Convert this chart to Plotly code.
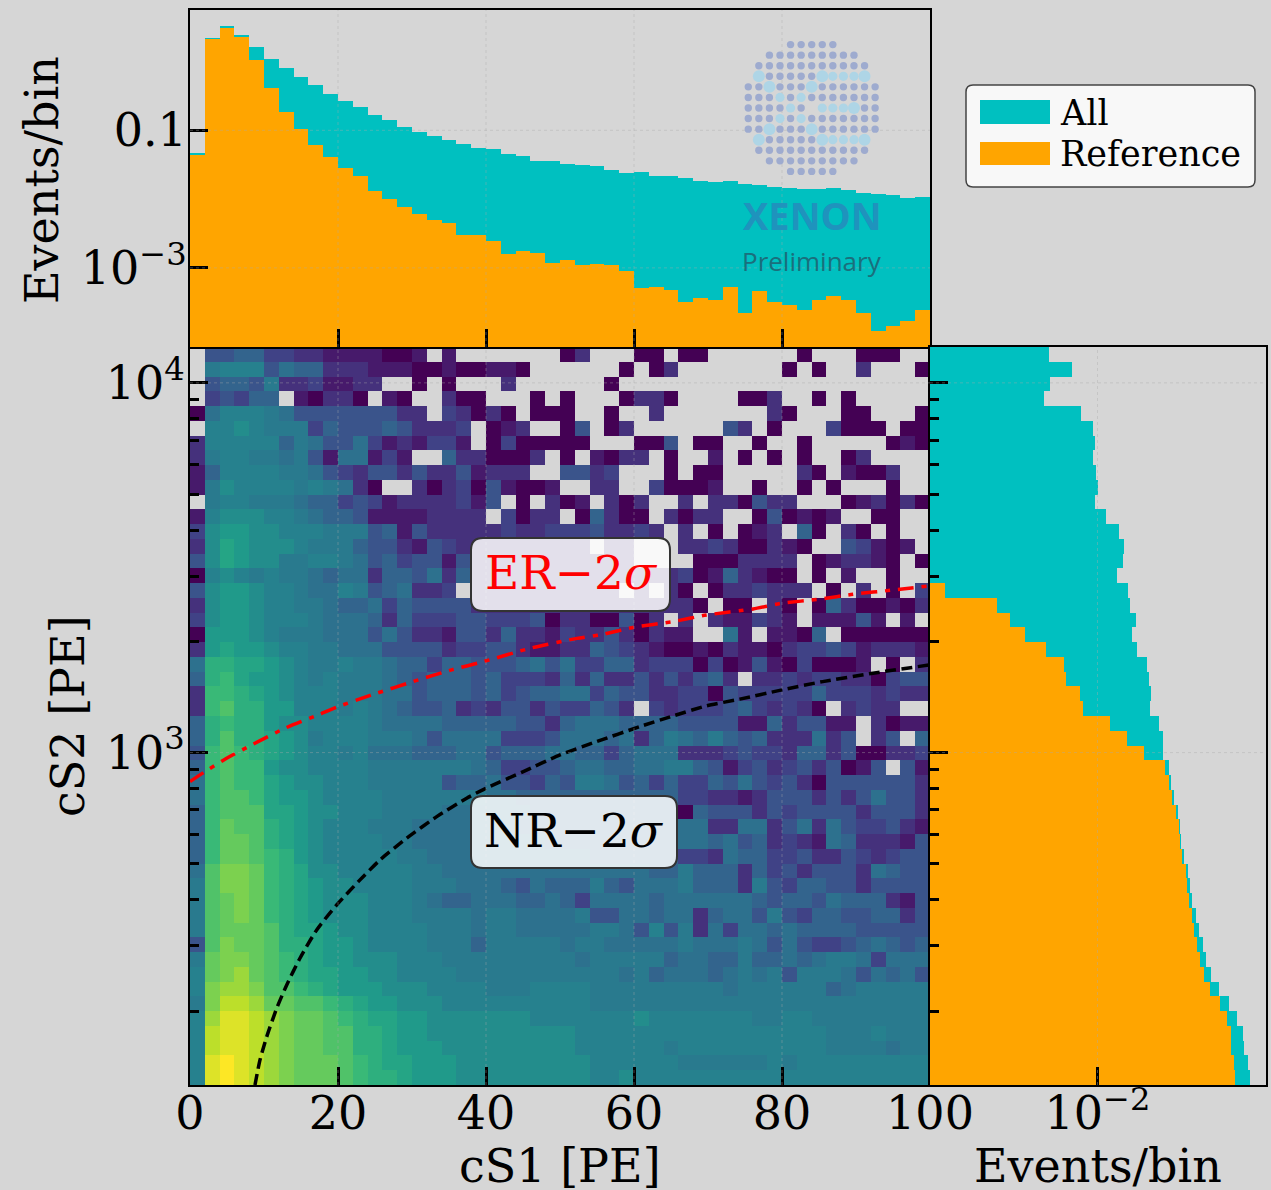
import numpy as np
import plotly.graph_objects as go

W, H = 1271, 1190
BG = "#d6d6d6"
TEAL = "#00c0c0"
ORANGE = "#ffa500"
SERIF = "DejaVu Serif"

# ---- top histogram: log10(events/bin) per cS1 bin (2 PE wide)
S1_ALL_LOG = [-1.330, 0.349, 0.516, 0.385, 0.215, 0.041, -0.099, -0.230, -0.346, -0.468,
              -0.570, -0.666, -0.782, -0.855, -0.952, -1.020, -1.083, -1.141, -1.199, -1.253,
              -1.276, -1.349, -1.378, -1.446, -1.446, -1.485, -1.509, -1.515, -1.581, -1.621,
              -1.606, -1.660, -1.669, -1.693, -1.741, -1.756, -1.741, -1.781, -1.795, -1.824,
              -1.834, -1.849, -1.853, -1.839, -1.863, -1.916, -1.930, -1.940, -1.980, -1.965]
S1_REF_LOG = [-1.359, 0.327, 0.494, 0.360, 0.022, -0.385, -0.738, -0.985, -1.209, -1.392,
              -1.552, -1.660, -1.882, -1.994, -2.115, -2.221, -2.304, -2.352, -2.517, -2.522,
              -2.613, -2.798, -2.759, -2.788, -2.933, -2.890, -2.958, -2.943, -2.962, -3.049,
              -3.292, -3.273, -3.317, -3.500, -3.442, -3.471, -3.273, -3.660, -3.336, -3.500,
              -3.539, -3.616, -3.471, -3.413, -3.471, -3.660, -3.917, -3.840, -3.772, -3.616]

# ---- right histogram: log10(events/bin) per cS2 bin, top row first
S2_ALL_LOG = [-2.284, -2.147, -2.278, -2.314, -2.096, -2.027, -2.016, -2.025, -2.006, -1.996,
              -2.014, -1.949, -1.876, -1.843, -1.849, -1.886, -1.820, -1.810, -1.776, -1.800,
              -1.767, -1.710, -1.698, -1.684, -1.690, -1.637, -1.618, -1.618, -1.582, -1.567,
              -1.551, -1.527, -1.518, -1.508, -1.494, -1.467, -1.457, -1.445, -1.424, -1.406,
              -1.380, -1.361, -1.331, -1.288, -1.225, -1.180, -1.145, -1.137, -1.118, -1.102]
S2_REF_LOG = [None] * 16 + [
              -2.896, -2.590, -2.516, -2.425,
              -2.304, -2.194, -2.184, -2.104, -2.084, -1.924, -1.829, -1.729, -1.602, -1.578,
              -1.563, -1.539, -1.524, -1.516, -1.502, -1.482, -1.475, -1.465, -1.447, -1.433,
              -1.416, -1.398, -1.375, -1.337, -1.280, -1.241, -1.216, -1.214, -1.200, -1.190]

# ---- 2D histogram: colour level per cell, top row first ('.' = empty, 0..k = 0..1 in steps of .05)
LEVELS = "0123456789abcdefghijk"
# calibration of the level letters to the colour scale
LEVEL_IN = [0, .05, .10, .15, .20, .25, .30, .35, .40, .50, .60, .70, .80, 1]
LEVEL_OUT = [0, .07, .14, .20, .26, .32, .37, .41, .44, .54, .63, .72, .80, 1]
HEAT_ROWS = [
 ".445533221 111001.1.. .....02... 00.00..... .0...000..",
 ".788846552 2211100100 110......0 .02....... 0.0..2...0",
 ".455472231 122..0.0.. .2......0. .......... ..........",
 ".34355.102 20.10..200 ...0.0...0 220....002 ..0.0.....",
 "0688876444 444422.320 20.000..0. .2.......2 0...00...0",
 ".889877735 444542223. 012..04.02 ......42.0 ...3000.00",
 "2888885764 463121331. 0300000... 004.00..0. .0.....010",
 "2788776741 66131..522 0002.0.102 2.0..1.0.0 .0..02....",
 "1588887764 3244242241 222..4423. ..0.00.... .20.1002..",
 "1798888787 620..20230 41001..22. .30001..0. .0.0...0..",
 ".788777655 3431222231 4.0.201.20 2..2.22042 2...012020",
 "1899988765 5411112222 .3022.0520 0.2022..04 0101..00..",
 "39aa998887 7745142222 2322333422 32.2.0.012 .50.20.0..",
 "29ba999877 7544214322 2222222.22 ...2232002 10..43101.",
 "49ba997788 7645344142 2222222222 ....000222 2.012210.0",
 "0898787765 6625546252 2222222222 2223015210 0.0.1..0..",
 "49aa988766 87456223.2 222222222. 2.20.02232 22.0.2.0.3",
 "29aa988776 5563544442 2222222222 22220.00.2 0.05200102",
 "39aa988876 6652533344 3334022004 02.2.21132 1.11141.1.",
 "0aaa987776 6646422144 2522132242 0211..61.1 105.000000",
 "2abaa98877 6664444233 4421122543 2100102110 2334312221",
 "6ccbba9877 8776553554 4456463355 2333030141 030001.0.2",
 "5cdbaa9878 7776545554 5333252522 4242452.22 3233220344",
 "2ddcba9888 7776645554 5345566354 4223304333 3353332322",
 "2deccaa888 7876544523 2442433542 .323334532 320.2322..",
 "5cdcca9988 8876666555 5544256665 5554444115 24411.2011",
 "5ceccba978 8877764666 6333466656 2576575452 22624.24.5",
 "4dedcba988 7866655566 4555665535 6662223433 2552400223",
 "5dedda9988 8877777776 5334456655 6677541342 3424014.41",
 "6deddba998 8877777455 6443547764 5353354643 4204444442",
 "6deedbaa98 8887777777 6655555555 5553322124 4424246442",
 "5deeebba99 8887777666 6665555555 5550544424 3444424442",
 "5dfeecba98 8877766666 6655555555 5556622662 4626433421",
 "5dffecba98 8887766666 6666555555 5556656452 3216522214",
 "5dffedca98 8888776666 6666666555 5553326553 3422432344",
 "6eggfdcb99 8888877666 6666666666 6557555253 4244426544",
 "7eggfdcba9 9888877766 6546555754 6667555274 3554424444",
 "7efgfdcba9 9988876556 6655653666 6566666654 5546555214",
 "7efgfdcba9 9988877776 7766667446 6566256647 4355445524",
 "7efffecbba 9988887776 7766666776 4847263665 6555544444",
 "4egffeccba a988887775 7777767766 6667666764 6433456545",
 "7fggfedcba a999888777 7777776777 7756655755 6567763666",
 "8fghfedcbb aa99888877 7777777776 7566656767 4777646564",
 "8ghhgeedcb aaa9998888 7778888777 7777776777 7775677777",
 "7giihffeed cbaa999888 8888888777 7777777777 7777777777",
 "8hjjihgffe dcbbaa9999 9998888888 9888888877 8877777777",
 "8ijjihgffe eccbaa9999 9999998888 8888888888 8887778777",
 "8ijjihgffe eccbaaa999 9999998888 8878888888 8887777677",
 "8jkjihgfff edcbbaaa99 9999999888 8887777778 7888888888",
 "8jkjihgfff edccbaaa99 9999999889 8888888888 8888888888",
]

# ---- contours
ER_X = [0, 2.03, 4.73, 8.34, 12.84, 17.34, 20.04, 24.55, 30.85, 35.36, 39.64, 46, 52.3, 55.4, 60, 65.2, 69.8, 76.1, 80, 85.1, 89.6, 95, 100]
ER_Y = [835, 888.5, 959.6, 1049, 1164, 1265, 1332, 1432, 1573, 1674, 1762, 1916, 2037, 2080, 2183, 2260, 2356, 2447, 2535, 2600, 2681, 2752, 2824]
NR_X = [8.78, 9.46, 10.45, 11.72, 13.07, 14.86, 17.12, 19.82, 22.74, 25.68, 29.28, 33.34, 37.39, 40, 45.04, 50, 54.96, 60.8, 65.3, 69.8, 74.3, 80, 85.5, 92.3, 100]
NR_Y = [126.2, 147.5, 172.4, 203.5, 235.3, 277.9, 331.5, 387.3, 447.7, 512.6, 586.7, 671.3, 752.9, 801, 888.5, 986, 1071, 1176, 1257, 1338, 1395, 1478, 1556, 1640, 1727]

X_TICKS = [0, 20, 40, 60, 80, 100]
CS2_RANGE_LOG = [2.101, 4.097]
S1_AXIS_LOG = [-4.150, 0.749]
S2_AXIS_LOG = [-2.984, -1.010]

# logo layout: dots per row, and the highlighted letter dots as (row, col, big?)
LOGO_ROWS = [5, 9, 11, 11, 13, 13, 13, 13, 13, 11, 11, 9, 5]
LOGO_X = [(-3, -5, 1), (-2, -4, 1), (-1, -3, 0), (0, -2, 0), (1, -3, 0), (2, -4, 1), (3, -5, 1),
          (-2, 0, 1), (-1, -1, 0), (1, -1, 0), (2, 0, 1)]
LOGO_E = [(-3, 1, 1), (-3, 2, 0), (-3, 3, 0), (-3, 4, 0), (-3, 5, 1),
          (0, 1, 0), (0, 2, 0), (0, 3, 0), (0, 4, 1),
          (3, 1, 1), (3, 2, 0), (3, 3, 0), (3, 4, 0), (3, 5, 1)]

# ---- derived
def level(c):
    return None if c == "." else float(np.interp(LEVELS.index(c) / 20, LEVEL_IN, LEVEL_OUT))

rows = [r.replace(" ", "") for r in HEAT_ROWS]
assert len(rows) == 50 and all(len(r) == 50 for r in rows), [len(r) for r in rows]
z = [[level(c) for c in r] for r in rows[::-1]]
x_edges = np.arange(0, 102, 2)
x_mid = x_edges[:-1] + 1
y_edges = np.logspace(CS2_RANGE_LOG[0], CS2_RANGE_LOG[1], 51)
y_mid = (y_edges[:-1] + y_edges[1:]) / 2
y_wid = y_edges[1:] - y_edges[:-1]


def unlog(a):
    return [None if v is None else 10 ** v for v in a]


def px(x):
    return x / W


def py(y):
    return 1 - y / H


fig = go.Figure()
fig.add_trace(go.Heatmap(z=z, x=x_edges, y=y_edges, colorscale="Viridis", zmin=0, zmax=1,
                         showscale=False, xaxis="x", yaxis="y", hoverongaps=False))
fig.add_trace(go.Scatter(x=ER_X, y=ER_Y, mode="lines", xaxis="x", yaxis="y",
                         line=dict(color="#ff0000", width=3.5, shape="spline", smoothing=0.6,
                                   dash="16px,8px,5px,8px")))
fig.add_trace(go.Scatter(x=NR_X, y=NR_Y, mode="lines", xaxis="x", yaxis="y",
                         line=dict(color="black", width=3.5, shape="spline", smoothing=0.6, dash="11px,5.5px")))
fig.add_trace(go.Bar(x=x_mid, y=unlog(S1_ALL_LOG), width=2, marker=dict(color=TEAL, line=dict(width=0)),
                     name="All", xaxis="x2", yaxis="y2"))
fig.add_trace(go.Bar(x=x_mid, y=unlog(S1_REF_LOG), width=2, marker=dict(color=ORANGE, line=dict(width=0)),
                     name="Reference", xaxis="x2", yaxis="y2"))
fig.add_trace(go.Bar(y=y_mid, x=unlog(S2_ALL_LOG[::-1]), width=y_wid, orientation="h",
                     marker=dict(color=TEAL, line=dict(width=0)), name="All", xaxis="x3", yaxis="y3"))
fig.add_trace(go.Bar(y=y_mid, x=unlog(S2_REF_LOG[::-1]), width=y_wid, orientation="h",
                     marker=dict(color=ORANGE, line=dict(width=0)), name="Reference", xaxis="x3", yaxis="y3"))

shapes = []
GRID = dict(color="rgba(170,170,170,0.4)", width=1, dash="dot")
for v in X_TICKS[1:-1]:
    shapes.append(dict(type="line", xref="x", yref="y domain", x0=v, x1=v, y0=0, y1=1, line=GRID))
    shapes.append(dict(type="line", xref="x2", yref="y2 domain", x0=v, x1=v, y0=0, y1=1, line=GRID))
for v in (1000, 10000):
    shapes.append(dict(type="line", yref="y", xref="x domain", y0=v, y1=v, x0=0, x1=1, line=GRID))
    shapes.append(dict(type="line", yref="y3", xref="x3 domain", y0=v, y1=v, x0=0, x1=1, line=GRID))
for v in (0.1, 0.001):
    shapes.append(dict(type="line", yref="y2", xref="x2 domain", y0=v, y1=v, x0=0, x1=1, line=GRID))
shapes.append(dict(type="line", xref="x3", yref="y3 domain", x0=0.01, x1=0.01, y0=0, y1=1, line=GRID))


def rounded(x0, y0, x1, y1, r):
    a, b, c, d = px(x0), py(y0), px(x1), py(y1)
    rx, ry = r / W, r / H
    return (f"M {a+rx} {b} L {c-rx} {b} Q {c} {b} {c} {b-ry} L {c} {d+ry} Q {c} {d} {c-rx} {d} "
            f"L {a+rx} {d} Q {a} {d} {a} {d+ry} L {a} {b-ry} Q {a} {b} {a+rx} {b} Z")


def rbox(x0, y0, x1, y1, r, fill, edge="#333333", lw=2):
    return dict(type="path", xref="paper", yref="paper", path=rounded(x0, y0, x1, y1, r),
                fillcolor=fill, line=dict(color=edge, width=lw))


shapes.append(rbox(471, 538, 670, 611, 12, "rgba(255,255,255,0.85)"))
shapes.append(rbox(471, 796, 677, 868, 12, "rgba(255,255,255,0.85)"))
shapes.append(rbox(966, 85, 1255, 187, 7, "rgba(250,250,250,0.95)", "#444444", 1.5))
for y0, y1, col in ((100, 124, TEAL), (142, 165, ORANGE)):
    shapes.append(dict(type="rect", xref="paper", yref="paper", x0=px(980), x1=px(1050), y0=py(y1), y1=py(y0),
                       fillcolor=col, line=dict(width=0)))

# logo dots
CX, CY, STEP = 811.7, 108.0, 10.57
highlight = {(r, c): big for r, c, big in LOGO_X + LOGO_E}


def dot(cx, cy, rad, col):
    return dict(type="circle", xref="paper", yref="paper", x0=px(cx - rad), x1=px(cx + rad),
                y0=py(cy + rad), y1=py(cy - rad), fillcolor=col, line=dict(width=0))


for i, n in enumerate(LOGO_ROWS):
    r = i - 6
    for k in range(n):
        c = k - n // 2
        if (r, c) == (0, 0):
            continue
        if (r, c) not in highlight:
            shapes.append(dot(CX + c * STEP, CY + r * STEP, 3.7, "#9eabcf"))
for (r, c), big in highlight.items():
    shapes.append(dot(CX + c * STEP, CY + r * STEP, 6.0 if big else 4.6, "#aed5e6"))


def note(text, x, y, size=46, color="black", family=SERIF, angle=0, xanchor="center", bold=False):
    return dict(text=f"<b>{text}</b>" if bold else text, xref="paper", yref="paper", x=px(x), y=py(y),
                xanchor=xanchor, yanchor="middle", showarrow=False, textangle=angle,
                font=dict(size=size, color=color, family=family))


annotations = [
    note("cS1 [PE]", 560, 1166),
    note("Events/bin", 1098, 1166),
    note("cS2 [PE]", 68, 716, angle=-90),
    note("Events/bin", 42, 180, angle=-90),
    note("ER−2<i>σ</i>", 571, 572, size=47, color="#ff0000"),
    note("NR−2<i>σ</i>", 574, 830, size=47),
    note("All", 1058, 113, size=35, xanchor="left"),
    note("Reference", 1058, 154, size=35, xanchor="left"),
    note("XENON", 812, 215, size=38, color="#1f93bd", family="Open Sans", bold=True),
    note("Preliminary", 812, 261, size=26, color="#1a6f7c", family="Open Sans"),
]

AX = dict(showline=True, linecolor="black", linewidth=2, mirror=True, showgrid=False, zeroline=False,
          automargin=False, ticks="inside", ticklen=18, tickwidth=3, tickcolor="black",
          tickfont=dict(family=SERIF, size=46, color="black"))
MINOR = dict(tickmode="array", tickvals=[200, 300, 400, 500, 600, 700, 800, 900,
                                         2000, 3000, 4000, 5000, 6000, 7000, 8000, 9000],
             ticks="inside", ticklen=9, tickwidth=3, tickcolor="black", showgrid=False)

fig.update_layout(
    width=W, height=H, autosize=False, margin=dict(l=0, r=0, t=0, b=0),
    paper_bgcolor=BG, plot_bgcolor=BG, showlegend=False, barmode="overlay", bargap=0,
    xaxis=dict(AX, domain=[px(190), px(930)], range=[0, 100], anchor="y", tickmode="array",
               tickvals=X_TICKS, ticktext=[str(v) for v in X_TICKS], ticklabelstandoff=-13),
    yaxis=dict(AX, domain=[py(1085), py(347)], type="log", range=CS2_RANGE_LOG, anchor="x", tickmode="array",
               tickvals=[1000, 10000], ticktext=["10<sup>3</sup>", "10<sup>4</sup>"], minor=MINOR,
               ticklabelstandoff=-6),
    xaxis2=dict(AX, domain=[px(190), px(930)], range=[0, 100], anchor="y2", tickmode="array",
                tickvals=X_TICKS, showticklabels=False),
    yaxis2=dict(AX, domain=[py(347), py(10)], type="log", range=S1_AXIS_LOG, anchor="x2", tickmode="array",
                tickvals=[0.1, 0.001], ticktext=["0.1", "10<sup>−3</sup>"], ticklabelstandoff=-8),
    xaxis3=dict(AX, domain=[px(930), px(1266)], type="log", range=S2_AXIS_LOG, anchor="y3", tickmode="array",
                tickvals=[0.01], ticktext=["10<sup>−2</sup>"], ticklabelstandoff=-13),
    yaxis3=dict(AX, domain=[py(1085), py(347)], type="log", range=CS2_RANGE_LOG, anchor="x3", tickmode="array",
                tickvals=[1000, 10000], showticklabels=False, minor=MINOR),
    shapes=shapes, annotations=annotations,
)

fig.write_html("out.html", config={"displayModeBar": False}, post_script="document.body.style.margin='0';")
